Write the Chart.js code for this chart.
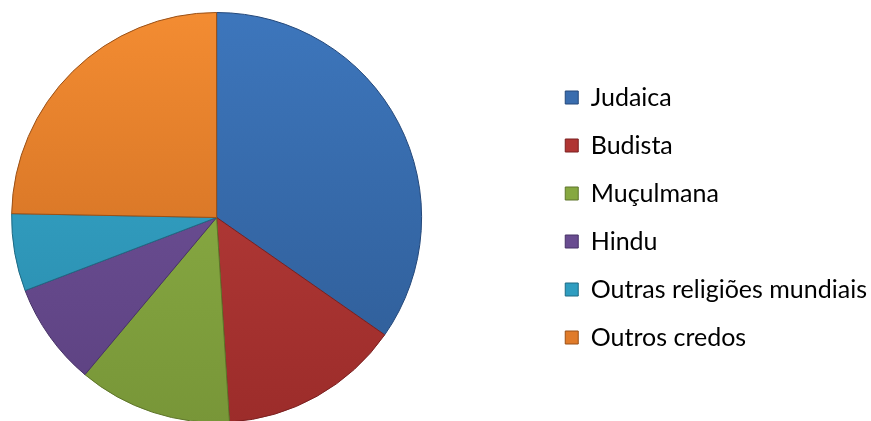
<!DOCTYPE html>
<html>
<head>
<meta charset="utf-8">
<script src="https://cdn.jsdelivr.net/npm/chart.js@4/dist/chart.umd.min.js"></script>
<style>
  html, body { margin: 0; padding: 0; background: #fff; overflow: hidden; }
  #wrap { position: relative; width: 871px; height: 421px; overflow: hidden; }
  #c { position: absolute; left: -109px; top: 0; }
</style>
</head>
<body>
<div id="wrap"><canvas id="c" width="986" height="423"></canvas></div>
<script>
const categories = ['Judaica', 'Budista', 'Muçulmana', 'Hindu', 'Outras religiões mundiais', 'Outros credos'];
const values = [34.7, 14.3, 12.1, 8.1, 6.1, 24.7];
const baseColors = ['#3A6DAE', '#B03533', '#86A840', '#694C90', '#2F9DC0', '#E07B2A'];
const lightColors = ['#3D76BC', '#BE413E', '#91B649', '#73559E', '#38ADD0', '#F38C32'];
const darkColors = ['#2E5B94', '#9C2C2A', '#789638', '#5C4180', '#2887A8', '#C4661E'];
const edgeColors = ['#24487A', '#7A2020', '#5E752A', '#473266', '#1E6A84', '#9A5016'];

function sliceFill(ctx) {
  const chart = ctx.chart;
  const area = chart.chartArea;
  const i = ctx.dataIndex;
  if (!area) return baseColors[i];
  const cy = (area.top + area.bottom) / 2;
  const r = Math.min(area.right - area.left, area.bottom - area.top) / 2;
  if (!isFinite(cy) || !isFinite(r) || r <= 0) return baseColors[i];
  const g = chart.ctx.createLinearGradient(0, cy - r, 0, cy + r);
  g.addColorStop(0, lightColors[i]);
  g.addColorStop(1, darkColors[i]);
  return g;
}

new Chart(document.getElementById('c'), {
  type: 'pie',
  data: {
    labels: categories,
    datasets: [{
      data: values,
      backgroundColor: sliceFill,
      borderColor: edgeColors,
      borderWidth: 1
    }]
  },
  options: {
    responsive: false,
    animation: false,
    layout: { padding: { left: 0, right: 0, top: 12, bottom: 0 } },
    plugins: {
      tooltip: { enabled: false },
      legend: {
        position: 'right',
        labels: {
          boxWidth: 13,
          boxHeight: 13,
          padding: 23,
          color: '#000',
          font: { family: 'Lato', size: 25 },
          generateLabels(chart) {
            return categories.map((t, i) => ({
              text: t,
              fillStyle: baseColors[i],
              strokeStyle: edgeColors[i],
              lineWidth: 1,
              hidden: false,
              index: i
            }));
          }
        }
      }
    }
  }
});
</script>
</body>
</html>
